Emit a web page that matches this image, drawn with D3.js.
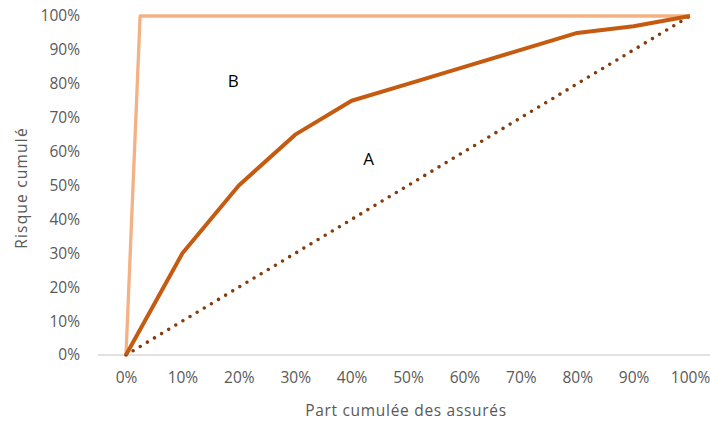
<!DOCTYPE html>
<html>
<head>
<meta charset="utf-8">
<script src="https://cdn.jsdelivr.net/npm/d3@7"></script>
<style>
  html, body { margin: 0; padding: 0; background: #fff; }
  svg { display: block; font-family: "Open Sans", "Liberation Sans", sans-serif; }
</style>
</head>
<body>
<svg id="chart" width="710" height="424"></svg>
<script>
// Cumulative share of insured people (x) and cumulative risk (y)
const shareInsured = [0, 0.1, 0.2, 0.3, 0.4, 0.5, 0.6, 0.7, 0.8, 0.9, 1.0];
const cumulativeRisk = [0, 0.30, 0.50, 0.65, 0.75, 0.80, 0.85, 0.90, 0.95, 0.97, 1.00];

// Equality line (diagonal)
const equalityX = [0, 1];
const equalityY = [0, 1];

// Maximum concentration line
const maxConcX = [0, 0.025, 1];
const maxConcY = [0, 1, 1];

const xTicks = [0, 0.1, 0.2, 0.3, 0.4, 0.5, 0.6, 0.7, 0.8, 0.9, 1.0];
const yTicks = [0, 0.1, 0.2, 0.3, 0.4, 0.5, 0.6, 0.7, 0.8, 0.9, 1.0];

const areaLabels = ["B", "A"];
const areaLabelX = [0.19, 0.43];
const areaLabelY = [0.81, 0.58];

const svg = d3.select("#chart");

const x = d3.scaleLinear().domain([-0.05, 1.05]).range([97.8, 718.2]);
const y = d3.scaleLinear().domain([0, 1]).range([355, 16]);
const pct = d3.format(".0%");

// Horizontal category axis
const xAxis = svg.append("g")
  .attr("transform", `translate(0,${y(0)})`)
  .call(d3.axisBottom(x).tickValues(xTicks).tickFormat(pct).tickSize(0).tickPadding(17));
xAxis.select(".domain").attr("stroke", "#d9d9d9").attr("stroke-width", 1.5)
  .attr("d", `M${x(-0.05)},0H${x(1.05)}`);
xAxis.selectAll("text").attr("fill", "#595959").style("font-size", "15.5px")
  .style("font-family", "'Open Sans', sans-serif");

// Vertical value axis (labels only)
const yAxis = svg.append("g")
  .attr("transform", `translate(80,0)`)
  .call(d3.axisLeft(y).tickValues(yTicks).tickFormat(pct).tickSize(0).tickPadding(0));
yAxis.select(".domain").remove();
yAxis.selectAll("text").attr("fill", "#595959").style("font-size", "15.5px")
  .style("font-family", "'Open Sans', sans-serif");

// Axis titles
svg.append("text")
  .attr("x", 406).attr("y", 416)
  .attr("text-anchor", "middle")
  .attr("fill", "#595959")
  .style("font-size", "15.5px")
  .style("letter-spacing", "0.7px")
  .text("Part cumulée des assurés");

svg.append("text")
  .attr("transform", `translate(27,188) rotate(-90)`)
  .attr("text-anchor", "middle")
  .attr("fill", "#595959")
  .style("font-size", "15.5px")
  .style("letter-spacing", "1.2px")
  .text("Risque cumulé");

const line = d3.line().x(d => x(d[0])).y(d => y(d[1]));

// Maximum concentration line
svg.append("path")
  .datum(d3.zip(maxConcX, maxConcY))
  .attr("fill", "none")
  .attr("stroke", "#f4b183")
  .attr("stroke-width", 3.3)
  .attr("stroke-linejoin", "round")
  .attr("d", line);

// Equality diagonal (dotted)
svg.append("path")
  .datum(d3.zip(equalityX, equalityY))
  .attr("fill", "none")
  .attr("stroke", "#843c0c")
  .attr("stroke-width", 3.6)
  .attr("stroke-linecap", "round")
  .attr("stroke-dasharray", "0,8.3")
  .attr("d", line);

// Concentration curve
svg.append("path")
  .datum(d3.zip(shareInsured, cumulativeRisk))
  .attr("fill", "none")
  .attr("stroke", "#c55a11")
  .attr("stroke-width", 4)
  .attr("stroke-linejoin", "round")
  .attr("d", line);

// Area labels
svg.selectAll("text.area")
  .data(areaLabels)
  .enter().append("text")
  .attr("class", "area")
  .attr("x", (d, i) => x(areaLabelX[i]))
  .attr("y", (d, i) => y(areaLabelY[i]))
  .attr("text-anchor", "middle")
  .attr("dominant-baseline", "central")
  .attr("fill", "#000")
  .style("font-size", "17px")
  .text(d => d);
</script>
</body>
</html>
